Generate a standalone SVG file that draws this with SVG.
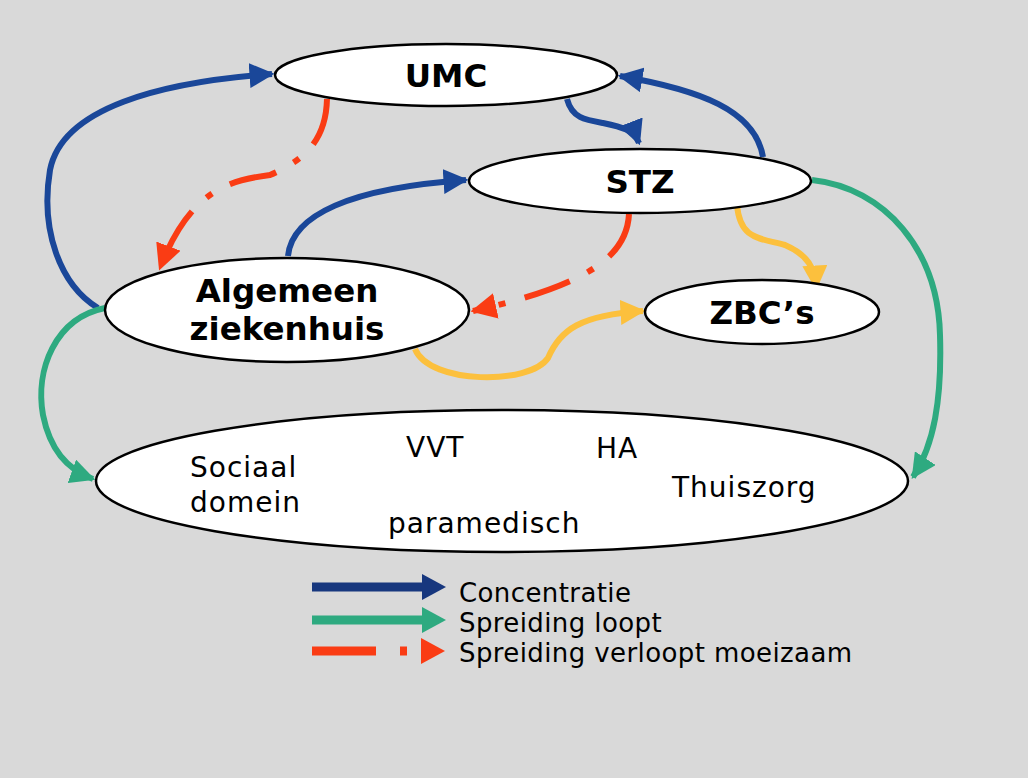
<svg xmlns="http://www.w3.org/2000/svg" width="1028" height="778" viewBox="0 0 1028 778">
<style>
.bg{fill:#d9d9d9}
.node{fill:#fff;stroke:#000;stroke-width:2.5}
.t{font-family:"DejaVu Sans","Liberation Sans",sans-serif;font-weight:bold;font-size:32.5px;text-anchor:middle;fill:#000}
.s{font-family:"DejaVu Sans","Liberation Sans",sans-serif;font-size:28px;letter-spacing:1px;fill:#000}
.l{font-family:"DejaVu Sans","Liberation Sans",sans-serif;font-size:26px;letter-spacing:0.4px;fill:#000}
.c{fill:none;stroke-width:6}
.blue{stroke:#1a4799}
.green{stroke:#2eaa80}
.red{stroke:#fa3c14;stroke-dasharray:48 20 7 20}
.yellow{stroke:#fcc03d}
</style>
<defs>
<marker id="ab" viewBox="0 0 10 10" refX="9" refY="5" markerWidth="25" markerHeight="25" markerUnits="userSpaceOnUse" orient="auto"><path d="M0,0 L10,5 L0,10 z" fill="#1a4799"/></marker>
<marker id="ag" viewBox="0 0 10 10" refX="9" refY="5" markerWidth="25" markerHeight="25" markerUnits="userSpaceOnUse" orient="auto"><path d="M0,0 L10,5 L0,10 z" fill="#2eaa80"/></marker>
<marker id="ar" viewBox="0 0 10 10" refX="9" refY="5" markerWidth="26" markerHeight="26" markerUnits="userSpaceOnUse" orient="auto"><path d="M0,0 L10,5 L0,10 z" fill="#fa3c14"/></marker>
<marker id="ay" viewBox="0 0 10 10" refX="9" refY="5" markerWidth="25" markerHeight="25" markerUnits="userSpaceOnUse" orient="auto"><path d="M0,0 L10,5 L0,10 z" fill="#fcc03d"/></marker>
</defs>
<rect class="bg" x="0" y="0" width="1028" height="778"/>
<g id="connectors">
<path class="c blue" d="M98,308 C60,285 40,230 50,170 C62,108 160,82 272,74" marker-end="url(#ab)"/>
<path class="c blue" d="M567,99 C572,118 585,120 603,123 C622,127 634,130 639,143" marker-end="url(#ab)"/>
<path class="c blue" d="M288,256 C292,215 350,188 466,180" marker-end="url(#ab)"/>
<path class="c blue" d="M763,157 C755,110 700,90 620,76" marker-end="url(#ab)"/>
<path class="c red" d="M327,99 C326,140 305,160 270,175 C230,180 190,190 160,268" marker-end="url(#ar)"/>
<path class="c red" d="M629,214 C627,255 590,285 473,311" marker-end="url(#ar)"/>
<path class="c yellow" d="M737,205 C740,240 760,238 785,245 C808,255 815,268 816,288" marker-end="url(#ay)"/>
<path class="c yellow" d="M415,349 C430,385 530,385 548,358 C560,330 580,315 643,311" marker-end="url(#ay)"/>
<path class="c green" d="M105,308 C55,318 35,370 43,415 C50,450 68,470 93,479" marker-end="url(#ag)"/>
<path class="c green" d="M812,180 C885,188 938,250 940,335 C942,400 934,445 913,477" marker-end="url(#ag)"/>
</g>
<g id="umc"><ellipse class="node" cx="446" cy="75" rx="171" ry="31"/><text class="t" x="446" y="87">UMC</text></g>
<g id="stz"><ellipse class="node" cx="640" cy="181" rx="171" ry="32"/><text class="t" x="640" y="193">STZ</text></g>
<g id="az"><ellipse class="node" cx="287" cy="310" rx="182" ry="52"/><text class="t" x="287" y="302">Algemeen</text><text class="t" x="287" y="340">ziekenhuis</text></g>
<g id="zbc"><ellipse class="node" cx="762" cy="312" rx="117" ry="32"/><text class="t" x="762" y="324">ZBC’s</text></g>
<g id="eerstelijn"><ellipse class="node" cx="502" cy="481" rx="406" ry="71"/>
<text class="s" x="190" y="477">Sociaal</text><text class="s" x="190" y="512">domein</text>
<text class="s" x="406" y="457">VVT</text><text class="s" x="596" y="458">HA</text>
<text class="s" x="672" y="497">Thuiszorg</text><text class="s" x="388" y="533">paramedisch</text></g>
<g id="legend">
<path d="M312,587 H430" stroke="#17377e" stroke-width="9" fill="none"/><path d="M422,574 L446,587 L422,600 z" fill="#17377e"/>
<path d="M312,620 H430" stroke="#2eaa80" stroke-width="9" fill="none"/><path d="M422,607 L446,620 L422,633 z" fill="#2eaa80"/>
<path d="M312,651 H376 M400,651 H407" stroke="#fa3c14" stroke-width="9" fill="none"/><path d="M421,638 L445,651 L421,664 z" fill="#fa3c14"/>
<text class="l" x="459" y="602">Concentratie</text>
<text class="l" x="459" y="632">Spreiding loopt</text>
<text class="l" x="459" y="662">Spreiding verloopt moeizaam</text>
</g>
</svg>
